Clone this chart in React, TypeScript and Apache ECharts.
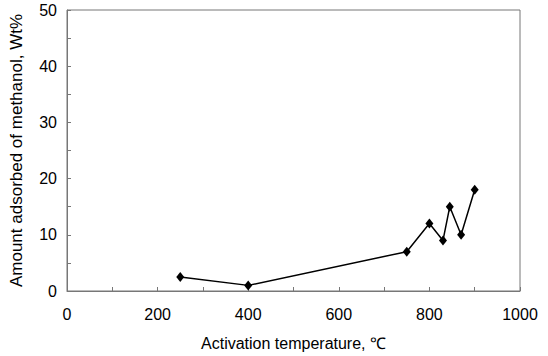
import React, { useEffect, useRef } from "react";
import * as echarts from "echarts";

const temperatures = [250, 400, 750, 800, 830, 845, 870, 900];
const adsorbed = [2.5, 1, 7, 12, 9, 15, 10, 18];

export default function App() {
  const ref = useRef<HTMLDivElement>(null);
  useEffect(() => {
    if (!ref.current) return;
    const chart = echarts.init(ref.current, undefined, { renderer: "svg" });
    const font = "Liberation Sans, Arial, sans-serif";
    chart.setOption({
      animation: false,
      backgroundColor: "#fff",
      grid: {
        left: 63,
        right: 28,
        top: 10,
        bottom: 61,
        show: true,
        borderColor: "#777",
        borderWidth: 1,
      },
      xAxis: {
        type: "value",
        min: 0,
        max: 1000,
        interval: 100,
        name: "Activation temperature, ℃",
        nameLocation: "middle",
        nameGap: 44,
        nameTextStyle: { fontFamily: font, fontSize: 16, color: "#000" },
        axisLine: { lineStyle: { color: "#777" } },
        axisTick: { inside: true, length: 4, lineStyle: { color: "#777" } },
        splitLine: { show: false },
        axisLabel: {
          fontFamily: font,
          fontSize: 16,
          color: "#000",
          margin: 15,
          formatter: (v: number) => (v % 200 === 0 ? String(v) : ""),
        },
      },
      yAxis: {
        type: "value",
        min: 0,
        max: 50,
        interval: 5,
        name: "Amount adsorbed of methanol, Wt%",
        nameLocation: "middle",
        nameGap: 42,
        nameTextStyle: { fontFamily: font, fontSize: 17, color: "#000" },
        axisLine: { show: true, lineStyle: { color: "#777" } },
        axisTick: { show: true, inside: true, length: 4, lineStyle: { color: "#777" } },
        splitLine: { show: false },
        axisLabel: {
          fontFamily: font,
          fontSize: 16,
          color: "#000",
          margin: 10,
          formatter: (v: number) => (v % 10 === 0 ? String(v) : ""),
        },
      },
      series: [
        {
          type: "line",
          data: temperatures.map((t, i) => [t, adsorbed[i]]),
          symbol: "diamond",
          symbolSize: [8, 10],
          lineStyle: { color: "#000", width: 1.5 },
          itemStyle: { color: "#000" },
        },
      ],
    });
    return () => chart.dispose();
  }, []);
  return <div ref={ref} style={{ width: 548, height: 356, position: "absolute", left: 0, top: 0 }} />;
}
